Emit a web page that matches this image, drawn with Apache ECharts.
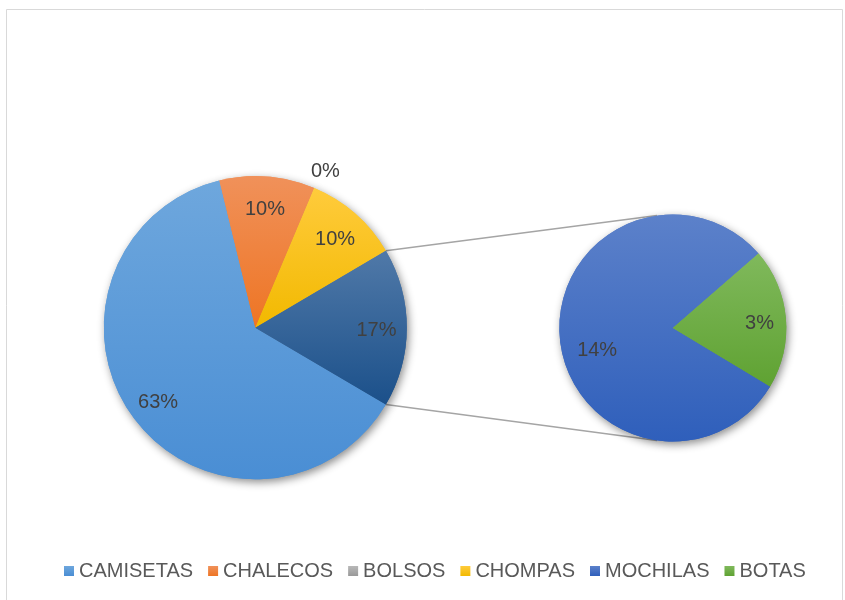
<!DOCTYPE html>
<html>
<head>
<meta charset="utf-8">
<script src="https://cdn.jsdelivr.net/npm/echarts@6/dist/echarts.min.js"></script>
<style>
html,body{margin:0;padding:0;background:#fff;}
#chart{width:845px;height:600px;}
</style>
</head>
<body>
<div id="chart"></div>
<script>
// ---- data ----
const categories = ['CAMISETAS', 'CHALECOS', 'BOLSOS', 'CHOMPAS', 'MOCHILAS', 'BOTAS'];
const values = [37, 6, 0, 6, 8, 2];
const secondaryNames = ['MOCHILAS', 'BOTAS'];
const otherName = 'Otro';
const colorsTop = ['#6EA7DD', '#F0915A', '#B8B8B8', '#FFCB3C', '#5C81CA', '#80B95C'];
const colorsBottom = ['#4A8ED4', '#EE7524', '#999999', '#F2B900', '#2F5FBB', '#5FA232'];
const otherTop = '#5079A8', otherBottom = '#1B508A';

// ---- layout ----
const C1 = [255.3, 327.7], R1 = 151.5;
const C2 = [672.8, 328], R2 = 113.5;
const FONT = 'Liberation Sans, Arial, sans-serif';

const total = values.reduce((a, b) => a + b, 0);
const grad = (t, b) => new echarts.graphic.LinearGradient(0, 0, 0, 1, [{offset: 0, color: t}, {offset: 1, color: b}]);
const pct = v => Math.round(v / total * 100) + '%';

const primaryIdx = categories.map((c, i) => i).filter(i => secondaryNames.indexOf(categories[i]) < 0);
const secondaryIdx = categories.map((c, i) => i).filter(i => secondaryNames.indexOf(categories[i]) >= 0);
const otherValue = secondaryIdx.reduce((s, i) => s + values[i], 0);

const mainData = primaryIdx.map(i => ({name: categories[i], value: values[i], itemStyle: {color: grad(colorsTop[i], colorsBottom[i])}}))
  .concat([{name: otherName, value: otherValue, itemStyle: {color: grad(otherTop, otherBottom)}}]);
const secData = secondaryIdx.map(i => ({name: categories[i], value: values[i], itemStyle: {color: grad(colorsTop[i], colorsBottom[i])}}));

const mainStart = -otherValue / total * 360 / 2;
const secStart = 41;

const labelStyle = {color: '#404040', fontSize: 20, fontFamily: FONT, offset: [0, 3]};
const clear = {color: 'rgba(0,0,0,0)', borderWidth: 0};

function pieBase(center, r, data, start, clockwise, shadow) {
  return {
    type: 'pie', center: center, radius: [0, r], startAngle: start, clockwise: clockwise,
    silent: true, animation: false, label: {show: false}, labelLine: {show: false},
    emphasis: {disabled: true},
    itemStyle: shadow ? {borderWidth: 0, shadowBlur: 9, shadowOffsetX: 2, shadowOffsetY: 3, shadowColor: 'rgba(0,0,0,0.45)'} : {borderWidth: 0},
    data: data
  };
}
function labelPie(center, rIn, rOut, data, start, clockwise, showFn, extra) {
  return {
    type: 'pie', center: center, radius: [rIn, rOut], startAngle: start, clockwise: clockwise,
    silent: true, animation: false, avoidLabelOverlap: false, emphasis: {disabled: true},
    labelLine: {show: false},
    data: data.map(d => Object.assign({}, d, {
      itemStyle: clear,
      label: Object.assign({show: showFn(d.name), position: 'inside', formatter: () => pct(d.value)}, labelStyle, (extra && extra[d.name]) || {})
    }))
  };
}

// connector lines computed from the "other" slice boundaries
const a1 = otherValue / total * Math.PI;
const rad = d => d * Math.PI / 180;
const pTopMain = [C1[0] + R1 * Math.cos(a1), C1[1] - R1 * Math.sin(a1)];
const pBotMain = [C1[0] + R1 * Math.cos(a1), C1[1] + R1 * Math.sin(a1)];
const pTopSec = [C2[0] + R2 * Math.cos(rad(98)), C2[1] - R2 * Math.sin(rad(98))];
const pBotSec = [C2[0] + R2 * Math.cos(rad(98)), C2[1] + R2 * Math.sin(rad(98))];

const chart = echarts.init(document.getElementById('chart'), null, {renderer: 'canvas'});
chart.setOption({
  backgroundColor: '#ffffff',
  animation: false,
  graphic: [
    {type: 'rect', z: 0, shape: {x: 6.5, y: 9.5, width: 836, height: 620}, style: {fill: 'none', stroke: '#D9D9D9', lineWidth: 1}},
    {type: 'line', z: 1, shape: {x1: pTopMain[0], y1: pTopMain[1], x2: pTopSec[0], y2: pTopSec[1]}, style: {stroke: '#A5A5A5', lineWidth: 1.5}},
    {type: 'line', z: 1, shape: {x1: pBotMain[0], y1: pBotMain[1], x2: pBotSec[0], y2: pBotSec[1]}, style: {stroke: '#A5A5A5', lineWidth: 1.5}}
  ],
  legend: {
    data: categories.map((c, i) => ({name: c, itemStyle: {color: grad(colorsTop[i], colorsBottom[i])}})),
    bottom: 14, left: 59, icon: 'rect', itemWidth: 10, itemHeight: 10, itemGap: 15,
    selectedMode: false,
    textStyle: {color: '#595959', fontSize: 20, fontFamily: FONT}
  },
  series: [
    pieBase(C1, R1, mainData, mainStart, true, true),
    pieBase(C1, R1, mainData, mainStart, true, false),
    pieBase(C2, R2, secData, secStart, false, true),
    pieBase(C2, R2, secData, secStart, false, false),
    labelPie(C1, R1 * 0.56, R1, mainData, mainStart, true, n => n !== 'BOLSOS'),
    labelPie(C1, R1 * 1.02, R1 * 1.22, mainData, mainStart, true, n => n === 'BOLSOS', {BOLSOS: {offset: [3, 3]}}),
    labelPie(C2, R2 * 0.48, R2, secData, secStart, false, n => true, {MOCHILAS: {offset: [11, 15]}})
  ]
});
</script>
</body>
</html>
